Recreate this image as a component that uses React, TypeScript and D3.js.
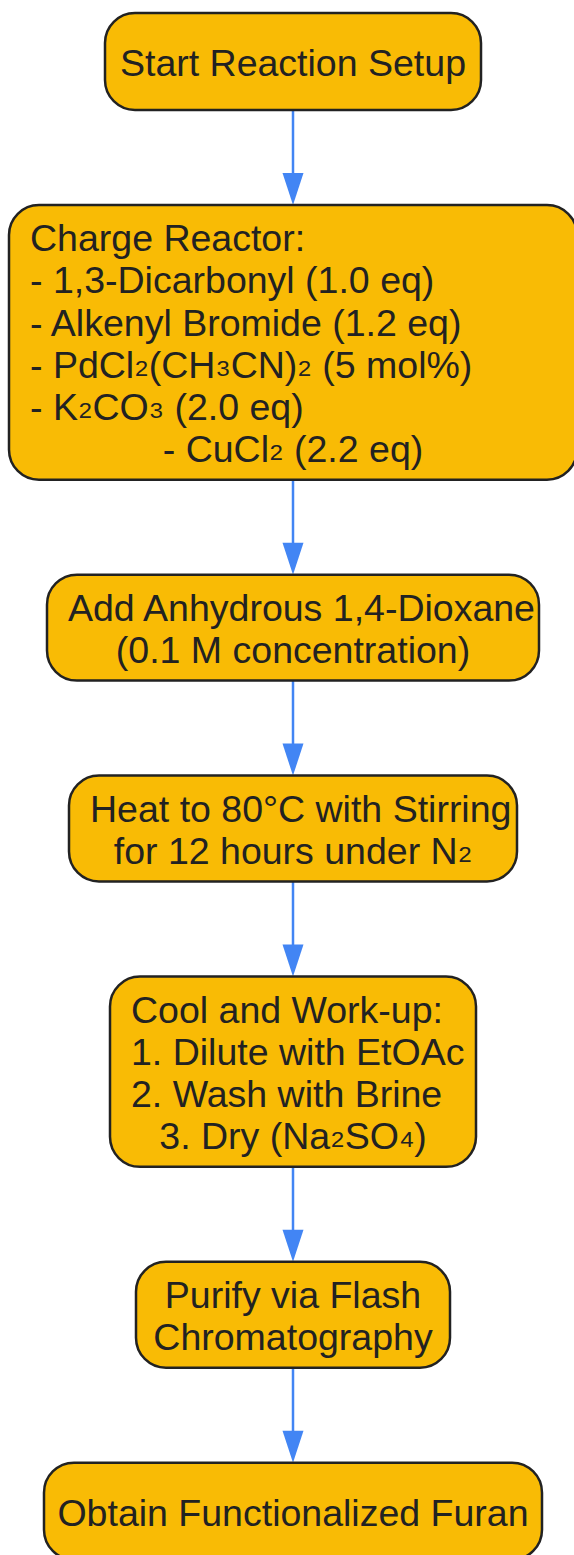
import React, { useEffect, useRef } from "react";
import * as d3 from "d3";

/* DATA */
const stepIds = ["start", "charge", "solvent", "heat", "workup", "purify", "product"];

const stepLines: string[][] = [
  ["Start Reaction Setup"],
  [
    "Charge Reactor:",
    "- 1,3-Dicarbonyl (1.0 eq)",
    "- Alkenyl Bromide (1.2 eq)",
    "- PdCl₂(CH₃CN)₂ (5 mol%)",
    "- K₂CO₃ (2.0 eq)",
    "- CuCl₂ (2.2 eq)",
  ],
  ["Add Anhydrous 1,4-Dioxane", "(0.1 M concentration)"],
  ["Heat to 80°C with Stirring", "for 12 hours under N₂"],
  ["Cool and Work-up:", "1. Dilute with EtOAc", "2. Wash with Brine", "3. Dry (Na₂SO₄)"],
  ["Purify via Flash", "Chromatography"],
  ["Obtain Functionalized Furan"],
];

const links = [
  ["start", "charge"],
  ["charge", "solvent"],
  ["solvent", "heat"],
  ["heat", "workup"],
  ["workup", "purify"],
  ["purify", "product"],
];

/* LAYOUT */
const W = 574;
const H = 1555;
const centerX = 293;
const topY = 13;
const gap = 95;
const lineH = 42.2;
const fontSize = 37.5;
const subShift = 5;
const boxWidths = [376, 568, 492, 448, 366, 314, 498];
// how many leading lines of each box sit flush left
const leftLines = [0, 5, 1, 1, 3, 0, 0];

const FILL = "#F9BB05";
const STROKE = "#222222";
const EDGE = "#4285F4";

function App() {
  const svgRef = useRef(null);

  useEffect(() => {
    const svg = d3.select(svgRef.current);
    svg.selectAll("*").remove();

    // stack the boxes top to bottom
    let y = topY;
    const nodes = stepIds.map((id, i) => {
      const n = stepLines[i].length;
      const h = Math.max(97, n * lineH + 21.5);
      const node = { id, i, x: centerX - boxWidths[i] / 2, y, w: boxWidths[i], h };
      y += h + gap;
      return node;
    });
    const byId = new Map(nodes.map((d) => [d.id, d]));

    const line = d3.line();
    const edgeG = svg.append("g");
    links.forEach(([s, t]) => {
      const a: any = byId.get(s);
      const b: any = byId.get(t);
      const tipY = b.y;
      edgeG
        .append("path")
        .attr("d", line([[centerX, a.y + a.h], [centerX, tipY - 30]]))
        .attr("stroke", EDGE)
        .attr("stroke-width", 2.5)
        .attr("fill", "none");
      edgeG
        .append("path")
        .attr(
          "d",
          line([
            [centerX - 10.5, tipY - 32],
            [centerX + 10.5, tipY - 32],
            [centerX, tipY],
          ]) + "Z"
        )
        .attr("fill", EDGE);
    });

    const nodeG = svg
      .append("g")
      .selectAll("g")
      .data(nodes)
      .enter()
      .append("g");

    nodeG
      .append("rect")
      .attr("x", (d) => d.x)
      .attr("y", (d) => d.y)
      .attr("width", (d) => d.w)
      .attr("height", (d) => d.h)
      .attr("rx", 30)
      .attr("ry", 30)
      .attr("fill", FILL)
      .attr("stroke", STROKE)
      .attr("stroke-width", 2.5);

    nodeG.each(function (d) {
      const g = d3.select(this);
      const lines = stepLines[d.i];
      const blockH = lines.length * lineH;
      const y0 = d.y + (d.h - blockH) / 2;
      lines.forEach((txt, k) => {
        const left = k < leftLines[d.i];
        const t = g
          .append("text")
          .attr("x", left ? d.x + 21 : centerX)
          .attr("y", y0 + k * lineH + 35.5)
          .attr("text-anchor", left ? "start" : "middle")
          .attr("font-family", "'Liberation Sans', Arial, sans-serif")
          .attr("font-size", fontSize)
          .attr("fill", STROKE);
        // subscripts sit a little higher, on the baseline
        let raised = false;
        txt.split(/([₀-₉]+)/).forEach((part) => {
          if (!part) return;
          const sub = /[₀-₉]/.test(part);
          let dy = 0;
          if (sub && !raised) dy = -subShift;
          if (!sub && raised) dy = subShift;
          raised = sub;
          t.append("tspan").attr("dy", dy).text(part);
        });
      });
    });
  }, []);

  return (
    <svg
      ref={svgRef}
      width={W}
      height={H}
      style={{ position: "absolute", left: 0, top: 0, background: "#fff" }}
    />
  );
}

export default App;
